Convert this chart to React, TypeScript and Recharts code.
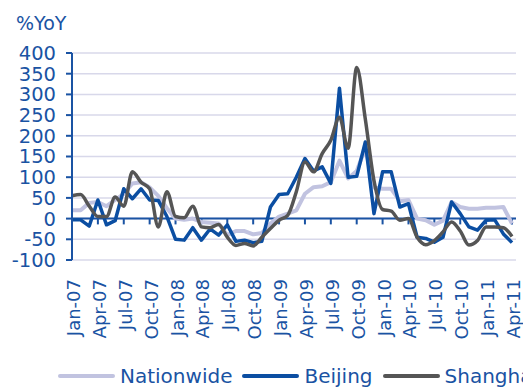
import { LineChart, Line, XAxis, YAxis, CartesianGrid, ReferenceLine, Legend } from 'recharts';

const months = [
  'Jan-07', 'Feb-07', 'Mar-07', 'Apr-07', 'May-07', 'Jun-07', 'Jul-07', 'Aug-07', 'Sep-07', 'Oct-07', 'Nov-07', 'Dec-07',
  'Jan-08', 'Feb-08', 'Mar-08', 'Apr-08', 'May-08', 'Jun-08', 'Jul-08', 'Aug-08', 'Sep-08', 'Oct-08', 'Nov-08', 'Dec-08',
  'Jan-09', 'Feb-09', 'Mar-09', 'Apr-09', 'May-09', 'Jun-09', 'Jul-09', 'Aug-09', 'Sep-09', 'Oct-09', 'Nov-09', 'Dec-09',
  'Jan-10', 'Feb-10', 'Mar-10', 'Apr-10', 'May-10', 'Jun-10', 'Jul-10', 'Aug-10', 'Sep-10', 'Oct-10', 'Nov-10', 'Dec-10',
  'Jan-11', 'Feb-11', 'Mar-11', 'Apr-11',
];

const nationwide = [
  20, 20, 38, 40, 30, 45, 60, 85, 88, 75, 55, 25,
  0, -3, 0, -8, -10, -12, -40, -30, -30, -38, -35, -12,
  5, 12, 20, 60, 76, 78, 88, 140, 97, 115, 170, 75,
  72, 72, 42, 45, 0, -4, -15, -5, 40, 28, 24, 24,
  26, 26, 28, -12,
];

const beijing = [
  -3, -3, -18, 45, -15, -5, 72, 48, 72, 45, 44, 5,
  -50, -52, -22, -52, -25, -40, -15, -55, -52, -58, -55, 28,
  58, 60, 100, 145, 115, 125, 85, 315, 100, 102, 185, 12,
  113, 113, 28, 36, -45, -48, -57, -45, 40, 12, -20, -28,
  -4, -3, -37, -58,
];

const shanghai = [
  55, 58, 30, 5, 5, 52, 30, 113, 88, 72, -20, 65,
  5, 2, 30, -20, -22, -14, -45, -65, -60, -66, -45, -24,
  -4, 8, 65, 137, 113, 157, 189, 245, 170, 365, 240, 92,
  22, 18, -4, 0, -45, -63, -53, -32, -8, -30, -64, -53,
  -20, -20, -22, -43,
];

const yTicks = [-100, -50, 0, 50, 100, 150, 200, 250, 300, 350, 400];

const seriesNames = ['Nationwide', 'Beijing', 'Shanghai'];
const seriesColors = ['#c1c3e0', '#0b4ea2', '#555555'];

const data = months.map((m, i) => ({
  month: m,
  Nationwide: nationwide[i],
  Beijing: beijing[i],
  Shanghai: shanghai[i],
}));

const BLUE = '#1a53a3';
const FONT = '"DejaVu Sans", sans-serif';

// rotated month labels, reading bottom to top
function MonthTick({ x, y, payload }: any) {
  return (
    <text
      transform={`translate(${x + 8},${y + 19}) rotate(-90)`}
      textAnchor="end"
      fill={BLUE}
      fontSize={18}
      fontFamily={FONT}
    >
      {payload.value}
    </text>
  );
}

// legend in the same order as the reference, not sorted
function LegendRow() {
  return (
    <div
      style={{
        display: 'flex',
        alignItems: 'center',
        paddingLeft: 58,
        height: 22,
        lineHeight: '22px',
        fontFamily: FONT,
        fontSize: 20,
        color: BLUE,
        whiteSpace: 'nowrap',
      }}
    >
      {seriesNames.map((name, i) => (
        <div key={name} style={{ display: 'flex', alignItems: 'center', marginRight: 10 }}>
          <span
            style={{
              display: 'inline-block',
              width: 57,
              height: 4,
              borderRadius: 2,
              background: seriesColors[i],
              marginRight: 5,
            }}
          />
          <span>{name}</span>
        </div>
      ))}
    </div>
  );
}

export default function App() {
  return (
    <div style={{ position: 'absolute', left: 0, top: 0, width: 523, height: 387, fontFamily: FONT, overflow: 'hidden' }}>
      <LineChart width={523} height={387} data={data} margin={{ top: 53, right: 7, left: 0, bottom: 0 }}>
        <CartesianGrid vertical={false} stroke="#d8d8ea" strokeWidth={1.5} />
        <XAxis
          dataKey="month"
          interval={2}
          height={105}
          axisLine={false}
          tickLine={false}
          tickSize={0}
          tickMargin={0}
          padding={{ left: 0, right: 4 }}
          tick={<MonthTick />}
        />
        <YAxis
          width={72}
          domain={[-100, 400]}
          ticks={yTicks}
          interval={0}
          axisLine={{ stroke: BLUE, strokeWidth: 2 }}
          tickLine={{ stroke: BLUE, strokeWidth: 2 }}
          tickSize={6}
          tickMargin={10}
          tick={{ fill: BLUE, fontSize: 19.5, fontFamily: FONT }}
        />
        <ReferenceLine y={0} stroke={BLUE} strokeWidth={2} />
        {months
          .filter((_, i) => i > 0 && i % 3 === 0)
          .map((m) => (
            <ReferenceLine
              key={m}
              segment={[{ x: m, y: 0 }, { x: m, y: -14 }]}
              stroke={BLUE}
              strokeWidth={2}
            />
          ))}
        <Legend verticalAlign="bottom" content={<LegendRow />} wrapperStyle={{ left: 0, width: 523 }} />
        <Line
          dataKey="Nationwide"
          stroke={seriesColors[0]}
          strokeWidth={4}
          dot={false}
          strokeLinejoin="round"
          isAnimationActive={false}
        />
        <Line
          dataKey="Beijing"
          stroke={seriesColors[1]}
          strokeWidth={3.5}
          dot={false}
          strokeLinejoin="round"
          isAnimationActive={false}
        />
        <Line
          dataKey="Shanghai"
          type="monotone"
          stroke={seriesColors[2]}
          strokeWidth={3.5}
          dot={false}
          strokeLinejoin="round"
          isAnimationActive={false}
        />
      </LineChart>
      <svg width={120} height={40} style={{ position: 'absolute', left: 0, top: 0 }}>
        <text x={16} y={30} fill={BLUE} fontSize={19} fontFamily={FONT}>
          %YoY
        </text>
      </svg>
    </div>
  );
}
